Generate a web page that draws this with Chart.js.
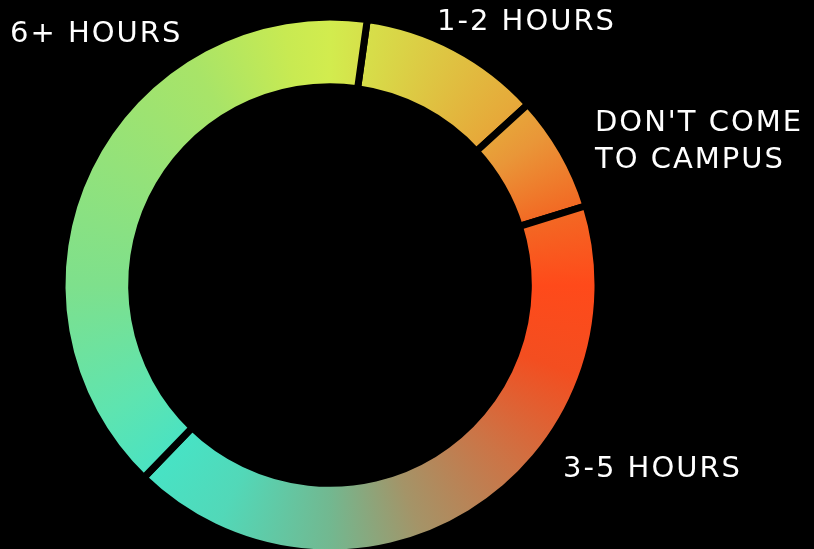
<!DOCTYPE html>
<html>
<head>
<meta charset="utf-8">
<script src="https://cdn.jsdelivr.net/npm/chart.js@4.4.0/dist/chart.umd.min.js"></script>
<style>
  html, body { margin: 0; padding: 0; background: #000; }
  #wrap { width: 814px; height: 549px; position: relative; background: #000; }
</style>
</head>
<body>
<div id="wrap"><canvas id="c"></canvas></div>
<script>
// Data
const categories = ['1-2 HOURS', "DON'T COME TO CAMPUS", '3-5 HOURS', '6+ HOURS'];
const labelLines = [['1-2 HOURS'], ["DON'T COME", 'TO CAMPUS'], ['3-5 HOURS'], ['6+ HOURS']];
const shares = [11, 7, 42, 40];

// Presentation (not data)
const labelPos = [[437, 30], [595, 131], [563, 477], [10, 42]];
const gradientStops = [
  [0, '#d2ec4e'], [8, '#d6e04a'], [45, '#e6aa3a'], [55, '#e99638'],
  [72, '#f26a24'], [90, '#ff4a1a'], [110, '#f34e20'], [135, '#cc7446'],
  [160, '#a49468'], [180, '#72b890'], [205, '#52d8b8'], [222, '#48e2c4'],
  [240, '#5ee4b0'], [270, '#7ee08c'], [328, '#a8e468'], [350, '#c8ea52'],
  [360, '#d2ec4e']
];

let cachedGrad = null, cachedKey = '';
function ringGradient(context) {
  const chart = context.chart;
  const area = chart.chartArea;
  if (!area) return '#888';
  const cx = (area.left + area.right) / 2;
  const cy = (area.top + area.bottom) / 2;
  const key = cx + ',' + cy;
  if (cachedGrad && cachedKey === key) return cachedGrad;
  const g = chart.ctx.createConicGradient(-Math.PI / 2, cx, cy);
  gradientStops.forEach(([deg, col]) => g.addColorStop(deg / 360, col));
  cachedGrad = g; cachedKey = key;
  return g;
}

const labelPlugin = {
  id: 'outerLabels',
  afterDatasetsDraw(chart) {
    const ctx = chart.ctx;
    ctx.save();
    ctx.fillStyle = '#ffffff';
    ctx.font = '500 29px "DejaVu Sans", sans-serif';
    ctx.textBaseline = 'alphabetic';
    ctx.textAlign = 'left';
    try { ctx.letterSpacing = '2px'; } catch (e) {}
    labelLines.forEach((lines, i) => {
      const [x, y] = labelPos[i];
      lines.forEach((t, j) => ctx.fillText(t, x, y + j * 37));
    });
    ctx.restore();
  }
};

new Chart(document.getElementById('c'), {
  type: 'doughnut',
  data: {
    labels: categories,
    datasets: [{
      data: shares,
      backgroundColor: ringGradient,
      borderColor: '#000000',
      borderWidth: 7,
      borderJoinStyle: 'miter',
      hoverOffset: 0
    }]
  },
  options: {
    responsive: true,
    maintainAspectRatio: false,
    animation: false,
    rotation: 8,
    radius: 268,
    cutout: '74%',
    layout: { padding: { left: 0, right: 154, top: 21, bottom: 0 } },
    plugins: { legend: { display: false }, tooltip: { enabled: false } },
    events: []
  },
  plugins: [labelPlugin]
});
</script>
</body>
</html>
